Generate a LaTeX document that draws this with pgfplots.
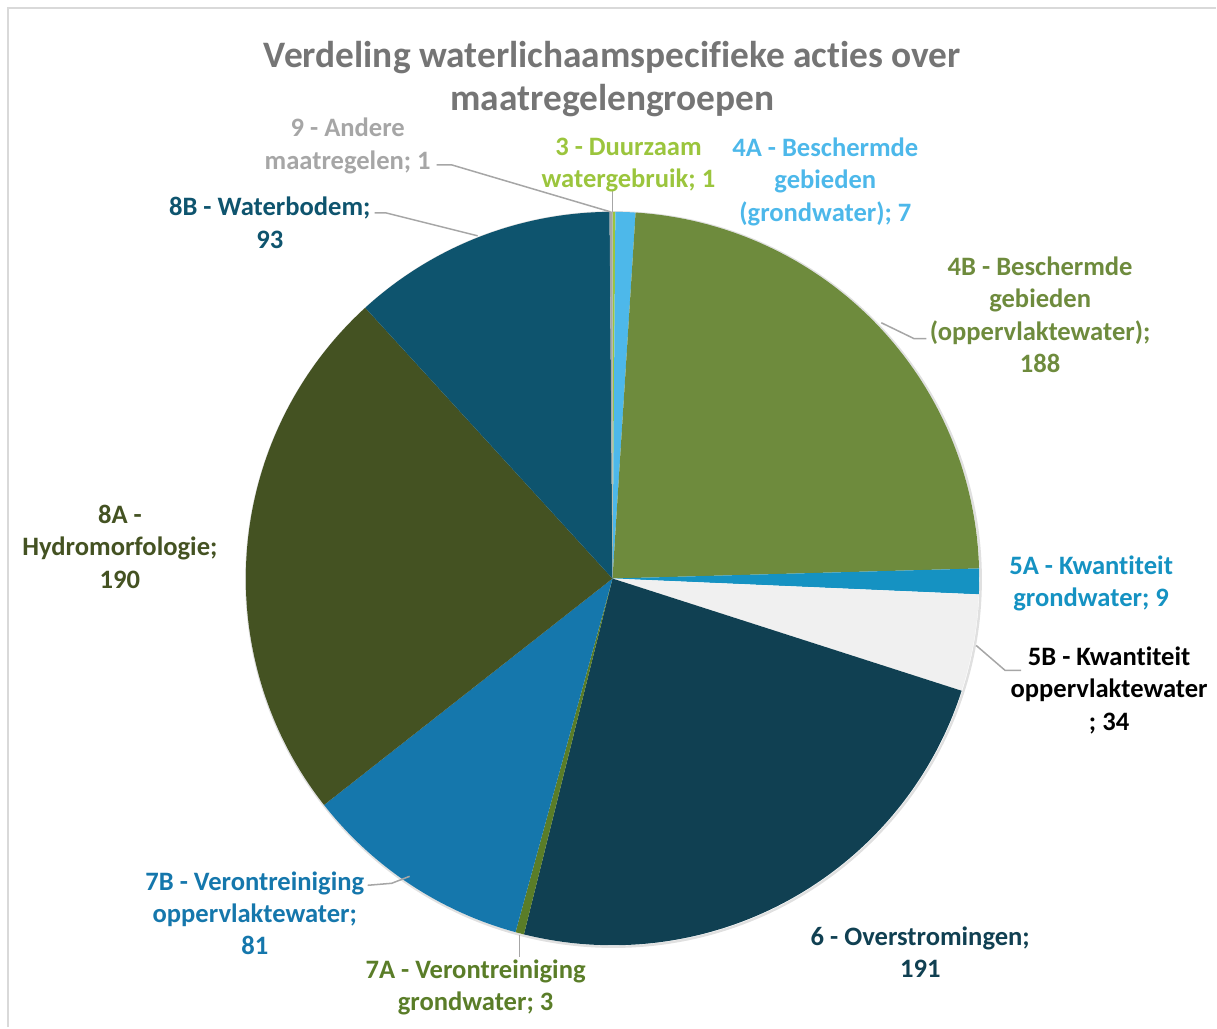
\documentclass[border=0pt]{standalone}
\usepackage{pgfplots}
\pgfplotsset{compat=1.18}
\usepackage{fontspec}
\setmainfont{Carlito}[Ligatures={NoCommon}]
\definecolor{c3}{HTML}{9BC53D}
\definecolor{c4A}{HTML}{4DB8EA}
\definecolor{c4B}{HTML}{6E8B3D}
\definecolor{c5A}{HTML}{1592C2}
\definecolor{c5B}{HTML}{F0F0F0}
\definecolor{c6}{HTML}{104052}
\definecolor{c7A}{HTML}{5A7D28}
\definecolor{c7B}{HTML}{1577AC}
\definecolor{c8A}{HTML}{445222}
\definecolor{c8B}{HTML}{0E546E}
\definecolor{c9}{HTML}{A6A6A6}
\definecolor{titlegray}{HTML}{757575}
\definecolor{leader}{HTML}{A6A6A6}
\definecolor{frame}{HTML}{D9D9D9}
\tikzset{lab/.style={font=\bfseries\fontsize{13.3}{16.25}\selectfont, align=center, inner sep=0pt}}
% slice: #1 cumulative value before, #2 value, #3 colour ; total 798
\newcommand\slice[3]{%
  \addplot[draw=none, fill=#3, samples=120, variable=\t,
    domain={#1*360/798}:{(#1+#2)*360/798}]
    ({613+367*sin(\t)},{579-367*cos(\t)}) -- (613,579) -- cycle;}
\begin{document}
\begin{tikzpicture}
\begin{axis}[
  scale only axis, width=608.5pt, height=514pt,
  xmin=0, xmax=1217, ymin=0, ymax=1028, y dir=reverse,
  hide axis, clip=false]
\path (0,0) rectangle (1217,1028);
\draw[frame, line width=1pt] (8,1028) -- (8,8) -- (1217,8);
% soft edge of the pie
\draw[black!12, line width=1.2pt] (614,580) circle[radius=367.5];
% values: 3:1, 4A:7, 4B:188, 5A:9, 5B:34, 6:191, 7A:3, 7B:81, 8A:190, 8B:93, 9:1
\slice{0}{1}{c3}
\slice{1}{7}{c4A}
\slice{8}{188}{c4B}
\slice{196}{9}{c5A}
\slice{205}{34}{c5B}
\slice{239}{191}{c6}
\slice{430}{3}{c7A}
\slice{433}{81}{c7B}
\slice{514}{190}{c8A}
\slice{704}{93}{c8B}
\slice{797}{1}{c9}
% leader lines
\draw[leader, line width=0.75pt] (437,165) -- (452,165) -- (611,212);
\draw[leader, line width=0.75pt] (613,190) -- (613,212);
\draw[leader, line width=0.75pt] (375,213) -- (386,213) -- (478,236);
\draw[leader, line width=0.75pt] (927,339) -- (915,339) -- (882,323);
\draw[leader, line width=0.75pt] (977,646) -- (1006,671) -- (1022,671);
\draw[leader, line width=0.75pt] (368,886) -- (392,884) -- (410,877);
\draw[leader, line width=0.75pt] (520,936) -- (520,958);
% title
\node[font=\bfseries\fontsize{18.7}{21.6}\selectfont, text=titlegray, align=center, inner sep=0pt] at (613,79)
  {Verdeling waterlichaamspecifieke acties over\\maatregelengroepen};
% labels
\node[lab, text=c9] at (348,146) {9 - Andere\\maatregelen; 1};
\node[lab, text=c3] at (629,165) {3 - Duurzaam\\watergebruik; 1};
\node[lab, text=c4A] at (826,182) {4A - Beschermde\\gebieden\\(grondwater); 7};
\node[lab, text=c8B] at (270,223) {8B - Waterbodem;\\93};
\node[lab, text=c4B] at (1041,315) {4B - Beschermde\\gebieden\\(oppervlaktewater);\\188};
\node[lab, text=c5A] at (1092,584) {5A - Kwantiteit\\grondwater; 9};
\node[lab, text=black] at (1110,691) {5B - Kwantiteit\\oppervlaktewater\\; 34};
\node[lab, text=c6] at (921,953) {6 - Overstromingen;\\191};
\node[lab, text=c7A] at (476,988) {7A - Verontreiniging\\grondwater; 3};
\node[lab, text=c7B] at (255,914) {7B - Verontreiniging\\oppervlaktewater;\\81};
\node[lab, text=c8A] at (120,547) {8A -\\Hydromorfologie;\\190};
\end{axis}
\end{tikzpicture}
\end{document}
